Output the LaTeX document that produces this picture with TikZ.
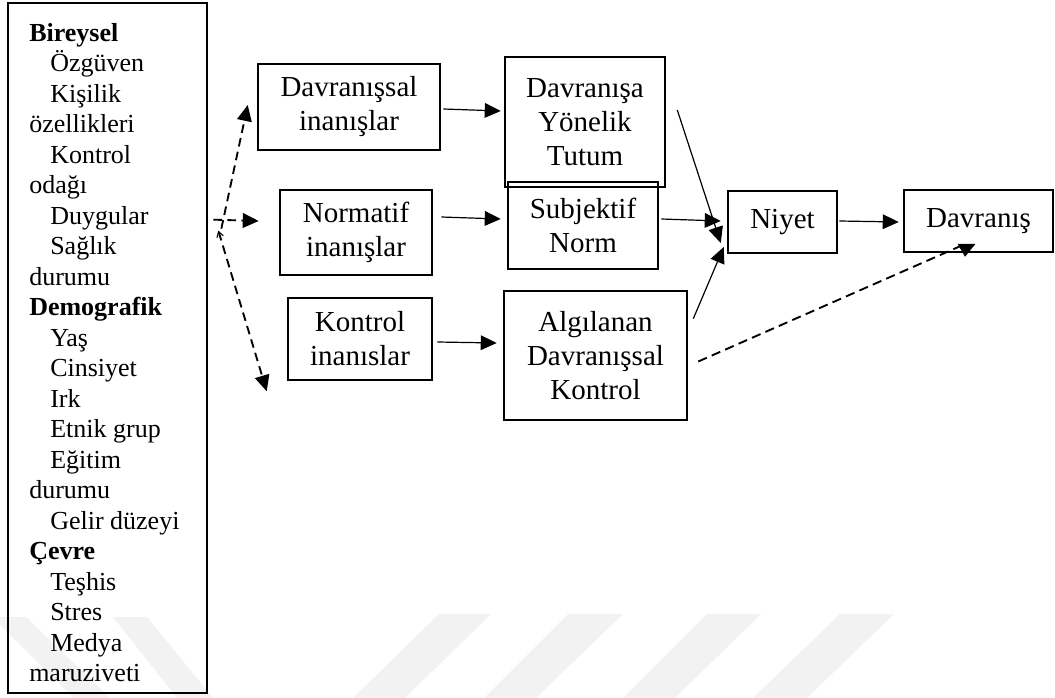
\documentclass[tikz,border=0pt]{standalone}
\usepackage{fontspec}
\setmainfont{Liberation Serif}
\usetikzlibrary{arrows.meta,calc}
\begin{document}
\begin{tikzpicture}[x=0.75pt,y=-0.75pt,
  box/.style={draw,line width=1.9pt,inner sep=0pt,align=center,font=\fontsize{21.75}{25.5}\selectfont},
  arr/.style={line width=0.9pt,-{Triangle[length=12pt,width=11pt]}},
  darr/.style={line width=1.4pt,dash pattern=on 6.5pt off 4pt,-{Triangle[length=12pt,width=11pt]}},
  dline/.style={line width=1.4pt,dash pattern=on 7pt off 4pt},
  wm/.style={fill=black!5,draw=none},
  lst/.style={anchor=base west,inner sep=0pt,font=\fontsize{19.5}{22.9}\selectfont}]
\useasboundingbox (0,0) rectangle (1055,698);
% watermark
\fill[wm] (439,614) -- (491,614) -- (405,698) -- (353,698) -- cycle;
\fill[wm] (568,614) -- (623,614) -- (536,698) -- (484,698) -- cycle;
\fill[wm] (707,614) -- (761,614) -- (675,698) -- (623,698) -- cycle;
\fill[wm] (840,614) -- (894,614) -- (807,698) -- (753,698) -- cycle;
\fill[wm] (-8,617) -- (26,617) -- (110,698) -- (74,698) -- cycle;
\fill[wm] (113,617) -- (147,617) -- (213,698) -- (177,698) -- cycle;
% left box
\node[draw,line width=2pt,inner sep=0pt,minimum width=149.25pt,minimum height=517.5pt] (lft) at (107.5,348) {};
\foreach \xx/\tx [count=\i] in {29/{\textbf{Bireysel}},50/Özgüven,50/Kişilik,29/özellikleri,50/Kontrol,29/odağı,50/Duygular,50/Sağlık,29/durumu,29/{\textbf{Demografik}},50/Yaş,50/Cinsiyet,50/Irk,50/{Etnik grup},50/Eğitim,29/durumu,50/{Gelir düzeyi},29/{\textbf{Çevre}},50/Teşhis,50/Stres,50/Medya,29/maruziveti}
  \node[lst] (t\i) at (\xx,{41.5+30.48*(\i-1)}) {\tx};
% boxes
\node[box,minimum width=136.5pt,minimum height=64.5pt] (dav) at (349,107) {Davranışsal\\inanışlar};
\node[box,minimum width=114pt,minimum height=63.75pt] (norm) at (356,232.5) {Normatif\\inanışlar};
\node[box,minimum width=108pt,minimum height=61.5pt] (kont) at (360,339) {Kontrol\\inanıslar};
\node[box,minimum width=120pt,minimum height=97.5pt] (tutum) at (585,122) {Davranışa\\Yönelik\\Tutum};
\node[box,minimum width=112.5pt,minimum height=65.25pt] (subj) at (583,225.5) {Subjektif\\Norm};
\node[box,minimum width=137.25pt,minimum height=96.75pt] (alg) at (595.5,355.5) {Algılanan\\Davranışsal\\Kontrol};
\node[box,minimum width=81.75pt,minimum height=46.5pt] (niyet) at (782.5,222) {Niyet};
\node[box,minimum width=111.75pt,minimum height=46.5pt] (davr) at (978.5,221) {Davranış};
% solid arrows
\draw[arr] ($(dav.east)+(2,2)$) -- ($(tutum.west)+(-3,-11)$);
\draw[arr] ($(norm.east)+(8,-15.5)$) -- ($(subj.west)+(-6,-6.5)$);
\draw[arr] ($(kont.east)+(4,3)$) -- ($(alg.west)+(-6,-12.5)$);
\draw[arr] ($(tutum.east)+(11,-12)$) -- ($(niyet.west)+(-6,21)$);
\draw[arr] ($(subj.east)+(2,-6.5)$) -- ($(niyet.west)+(-6,-1)$);
\draw[arr] ($(alg.north east)+(5,29)$) -- ($(niyet.west)+(-3,25)$);
\draw[arr] ($(niyet.east)+(1,-1)$) -- ($(davr.west)+(-4,1)$);
% dashed arrows from the left box
\coordinate (jh) at ($(lft.north east)+(5,218)$);
\coordinate (ju) at ($(lft.north east)+(13,227)$);
\coordinate (jd) at ($(lft.north east)+(10,229)$);
\draw[darr] (jh) -- ($(norm.west)+(-20,-11.5)$);
\draw[darr] (ju) -- ($(dav.west)+(-9,-2)$);
\draw[darr,{Straight Barb[length=4pt,width=5pt,line width=0.8pt]}-{Triangle[length=12pt,width=11pt]}] (jd) -- ($(kont.south west)+(-20,10)$);
% dashed Algilanan -> Davranis
\coordinate (dend) at ($(davr.south)+(-18.5,-7)$);
\draw[dline] ($(alg.east)+(10,6)$) -- (dend);
\fill ($(davr.south)+(-21,-9.5)$) -- ($(davr.south)+(-3,-9.5)$) -- ($(davr.south)+(-13.5,3.5)$) -- cycle;
\end{tikzpicture}
\end{document}
